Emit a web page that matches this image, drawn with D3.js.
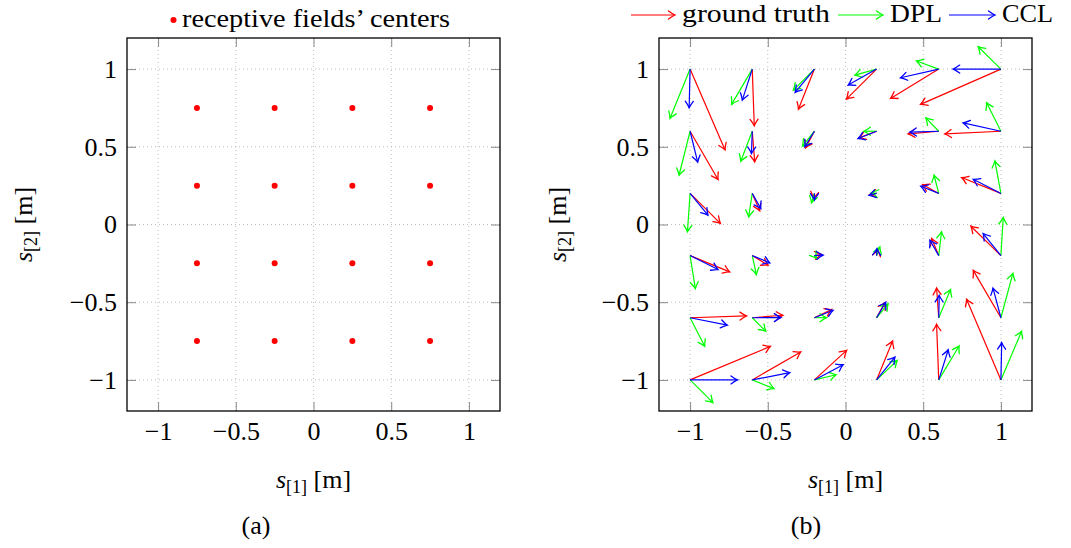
<!DOCTYPE html>
<html><head><meta charset="utf-8">
<script src="https://cdn.jsdelivr.net/npm/d3@7"></script>
<style>
body{margin:0;background:#fff;}
svg text{font-family:"Liberation Serif","DejaVu Serif",serif;fill:#000;}
</style></head><body>
<svg id="c" width="1071" height="548"></svg>
<script>
// ---------- data ----------
const centersX = [-0.75, -0.25, 0.25, 0.75];
const centersY = [-0.75, -0.25, 0.25, 0.75];
const gridX = [-1, -0.6, -0.2, 0.2, 0.6, 1];
const gridY = [1, 0.6, 0.2, -0.2, -0.6, -1];
// displacements, row-major: rows = gridY, columns = gridX
const truthU = [ 0.225, 0.013,-0.103,-0.194,-0.310,-0.517,
                 0.180, 0.016,-0.057,-0.113,-0.197,-0.361,
                 0.195, 0.048,-0.006,-0.044,-0.104,-0.253,
                 0.255, 0.102, 0.045, 0.010,-0.046,-0.193,
                 0.363, 0.198, 0.110, 0.053,-0.014,-0.178,
                 0.517, 0.312, 0.207, 0.103,-0.014,-0.221];
const truthV = [-0.520,-0.365,-0.258,-0.193,-0.189,-0.227,
                -0.310,-0.197,-0.107,-0.043,-0.017,-0.017,
                -0.193,-0.112,-0.032,-0.007, 0.057, 0.102,
                -0.105,-0.062, 0.007, 0.039, 0.110, 0.189,
                 0.012, 0.016, 0.053, 0.097, 0.191, 0.305,
                 0.216, 0.180, 0.190, 0.250, 0.358, 0.519];
const dplU = [-0.129,-0.133,-0.135,-0.140,-0.143,-0.146,
              -0.071,-0.074,-0.077,-0.082,-0.083,-0.092,
              -0.017,-0.023,-0.019,-0.032,-0.030,-0.039,
               0.034, 0.027, 0.013, 0.021, 0.018, 0.015,
               0.094, 0.087, 0.078, 0.074, 0.076, 0.077,
               0.147, 0.140, 0.140, 0.133, 0.131, 0.133];
const dplV = [-0.317,-0.227,-0.135,-0.039, 0.052, 0.144,
              -0.283,-0.193,-0.096, 0.000, 0.086, 0.183,
              -0.247,-0.151,-0.060, 0.006, 0.117, 0.209,
              -0.212,-0.122,-0.019, 0.056, 0.153, 0.245,
              -0.184,-0.087, 0.001, 0.090, 0.182, 0.285,
              -0.146,-0.056, 0.033, 0.126, 0.218, 0.313];
const cclU = [-0.006,-0.064,-0.124,-0.183,-0.246,-0.307,
               0.049,-0.005,-0.062,-0.119,-0.186,-0.243,
               0.115, 0.055, 0.000,-0.048,-0.115,-0.178,
               0.180, 0.113, 0.056, 0.003,-0.057,-0.114,
               0.240, 0.184, 0.120, 0.059, 0.003,-0.051,
               0.305, 0.241, 0.185, 0.118, 0.061, 0.005];
const cclV = [-0.249,-0.200,-0.150,-0.103,-0.056, 0.000,
              -0.199,-0.143,-0.100,-0.047,-0.006, 0.054,
              -0.140,-0.097,-0.043,-0.012, 0.046, 0.091,
              -0.090,-0.047, 0.003, 0.045, 0.099, 0.142,
              -0.048, 0.001, 0.048, 0.100, 0.144, 0.191,
               0.000, 0.047, 0.098, 0.147, 0.194, 0.240];
const tickValues = [-1, -0.5, 0, 0.5, 1];
const tickLabels = ["\u22121", "\u22120.5", "0", "0.5", "1"];
const seriesNames = ["ground truth", "DPL", "CCL"];
const seriesColors = ["#ff0000", "#00ff00", "#0000ff"];

// ---------- drawing ----------
const svg = d3.select("#c");
const defs = svg.append("defs");
seriesColors.forEach((c, i) => {
  defs.append("marker").attr("id", "ah" + i)
    .attr("viewBox", "-8 -5 10 10").attr("refX", 0).attr("refY", 0)
    .attr("markerWidth", 10).attr("markerHeight", 10)
    .attr("markerUnits", "userSpaceOnUse").attr("orient", "auto")
    .append("path").attr("d", "M-6.5,-4 Q-2.4,-1 0,0 Q-2.4,1 -6.5,4")
    .attr("fill", "none").attr("stroke", c).attr("stroke-width", 1.3)
    .attr("stroke-linecap", "round");
});

const FS = 26;
const yTop = 38, yBot = 411;

function panel(x0, x1, ylabX, capX, caption) {
  const x = d3.scaleLinear().domain([-1.2, 1.2]).range([x0, x1]);
  const y = d3.scaleLinear().domain([-1.2, 1.2]).range([yBot, yTop]);
  const g = svg.append("g");
  // grid
  const gg = g.append("g").attr("stroke", "#b4b4b4").attr("stroke-width", 0.9)
    .attr("stroke-dasharray", "1,3");
  tickValues.forEach(t => {
    gg.append("line").attr("x1", x(t)).attr("x2", x(t)).attr("y1", yTop).attr("y2", yBot);
    gg.append("line").attr("y1", y(t)).attr("y2", y(t)).attr("x1", x0).attr("x2", x1);
  });
  const fmt = (d) => tickLabels[tickValues.indexOf(d)];
  const styleAxis = (a) => {
    a.attr("font-family", null).attr("font-size", null);
    a.select(".domain").remove();
    a.selectAll(".tick line").attr("stroke", "#8a8a8a").attr("stroke-width", 1);
    a.selectAll(".tick text").attr("font-size", FS);
  };
  g.append("g").attr("transform", `translate(0,${yBot})`)
    .call(d3.axisBottom(x).tickValues(tickValues).tickFormat(fmt).tickSize(-9).tickPadding(11)).call(styleAxis);
  g.append("g").attr("transform", `translate(0,${yTop})`)
    .call(d3.axisTop(x).tickValues(tickValues).tickFormat("").tickSize(-9)).call(styleAxis);
  g.append("g").attr("transform", `translate(${x0},0)`)
    .call(d3.axisLeft(y).tickValues(tickValues).tickFormat(fmt).tickSize(-9).tickPadding(10)).call(styleAxis);
  g.append("g").attr("transform", `translate(${x1},0)`)
    .call(d3.axisRight(y).tickValues(tickValues).tickFormat("").tickSize(-9)).call(styleAxis);
  // box
  g.append("rect").attr("x", x0).attr("y", yTop).attr("width", x1 - x0).attr("height", yBot - yTop)
    .attr("fill", "none").attr("stroke", "#000").attr("stroke-width", 1.3);
  // x label
  const xl = g.append("text").attr("x", (x0 + x1) / 2).attr("y", 488).attr("text-anchor", "middle")
    .attr("font-size", FS);
  xl.append("tspan").attr("font-style", "italic").text("s");
  xl.append("tspan").attr("font-size", 18).attr("dy", 5).text("[1]");
  xl.append("tspan").attr("dy", -5).text(" [m]");
  // y label
  const yl = g.append("text").attr("transform", `translate(${ylabX},${(yTop + yBot) / 2}) rotate(-90)`)
    .attr("text-anchor", "middle").attr("font-size", FS);
  yl.append("tspan").attr("font-style", "italic").text("s");
  yl.append("tspan").attr("font-size", 18).attr("dy", 5).text("[2]");
  yl.append("tspan").attr("dy", -5).text(" [m]");
  // caption
  g.append("text").attr("x", capX).attr("y", 534).attr("text-anchor", "middle")
    .attr("font-size", FS).text(caption);
  return {g, x, y};
}

// Panel (a)
const A = panel(127, 500, 32, 256, "(a)");
A.g.append("g").selectAll("circle")
  .data(d3.cross(centersX, centersY))
  .join("circle").attr("cx", d => A.x(d[0])).attr("cy", d => A.y(d[1])).attr("r", 3)
  .attr("fill", "#ff0000");
// legend (a)
A.g.append("circle").attr("cx", 173.5).attr("cy", 20).attr("r", 3).attr("fill", "#ff0000");
A.g.append("text").attr("x", 182).attr("y", 27).attr("font-size", FS)
  .attr("textLength", 268).attr("lengthAdjust", "spacingAndGlyphs")
  .text("receptive fields\u2019 centers");

// Panel (b)
const B = panel(659, 1032, 566, 806, "(b)");
const origins = d3.cross(gridY, gridX).map(([gy, gx]) => ({gx, gy}));
const series = [[truthU, truthV], [dplU, dplV], [cclU, cclV]];
series.forEach(([U, V], si) => {
  B.g.append("g").selectAll("line")
    .data(origins.map((o, i) => ({x0: o.gx, y0: o.gy, x1: o.gx + U[i], y1: o.gy + V[i]})))
    .join("line")
    .attr("x1", d => B.x(d.x0)).attr("y1", d => B.y(d.y0))
    .attr("x2", d => B.x(d.x1)).attr("y2", d => B.y(d.y1))
    .attr("stroke", seriesColors[si]).attr("stroke-width", 1.2)
    .attr("marker-end", `url(#ah${si})`);
});
// legend (b)
const legItems = [
  {a0: 631, a1: 675, tx: 682, tw: 148},
  {a0: 838, a1: 883, tx: 890, tw: 52},
  {a0: 949, a1: 995, tx: 1002, tw: 51}
];
legItems.forEach((L, i) => {
  B.g.append("line").attr("x1", L.a0).attr("x2", L.a1).attr("y1", 15).attr("y2", 15)
    .attr("stroke", seriesColors[i]).attr("stroke-width", 1.2).attr("marker-end", `url(#ah${i})`);
  B.g.append("text").attr("x", L.tx).attr("y", 22).attr("font-size", FS)
    .attr("textLength", L.tw).attr("lengthAdjust", "spacingAndGlyphs").text(seriesNames[i]);
});
</script>
</body></html>
